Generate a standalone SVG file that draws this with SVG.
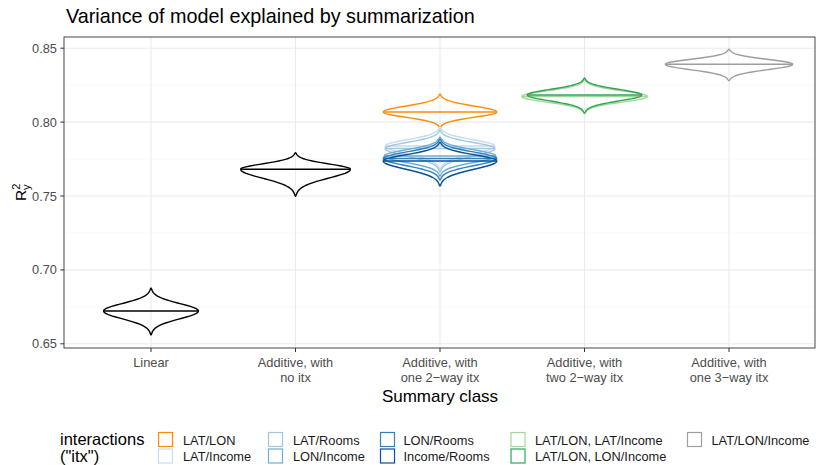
<svg xmlns="http://www.w3.org/2000/svg" width="818" height="465" viewBox="0 0 818 465">
<style>
  text { font-family: "Liberation Sans", Arial, sans-serif; }
  .tick { font-size: 12.8px; fill: #4d4d4d; }
  .gmaj { stroke: #ebebeb; stroke-width: 1.1; fill: none; }
  .gmin { stroke: #f3f3f3; stroke-width: 0.6; fill: none; }
  .axt { stroke: #333; stroke-width: 1; }
  .vio { fill: none; stroke-width: 1.4; stroke-linejoin: round; }
  .key { fill: #fff; stroke-width: 1.2; }
  .lab { font-size: 12.8px; fill: #1a1a1a; }
  .ttl { font-size: 17px; fill: #000; }
  .ltl { font-size: 16.5px; fill: #000; }
</style>
<defs>
  <!-- unit half violin: widest at y=0, tail tip at y=-1 -->
  <path id="vt" vector-effect="non-scaling-stroke" d="M-1,0 L-.988,-.05 L-.954,-.1 L-.899,-.15 L-.828,-.2 L-.744,-.25 L-.654,-.3 L-.56,-.35 L-.469,-.4 L-.384,-.45 L-.307,-.5 L-.239,-.55 L-.182,-.6 L-.136,-.65 L-.099,-.7 L-.07,-.75 L-.049,-.8 L-.033,-.85 L-.022,-.9 L-.014,-.95 L0,-1 L.014,-.95 L.022,-.9 L.033,-.85 L.049,-.8 L.07,-.75 L.099,-.7 L.136,-.65 L.182,-.6 L.239,-.55 L.307,-.5 L.384,-.45 L.469,-.4 L.56,-.35 L.654,-.3 L.744,-.25 L.828,-.2 L.899,-.15 L.954,-.1 L.988,-.05 L1,0"/>
</defs>

<rect width="818" height="465" fill="#fff"/>

<!-- title -->
<text x="66" y="23" font-size="19.8" fill="#000">Variance of model explained by summarization</text>

<!-- panel grid -->
<g id="grid">
  <line class="gmin" x1="64" y1="85.2" x2="815" y2="85.2"/>
  <line class="gmin" x1="64" y1="159.1" x2="815" y2="159.1"/>
  <line class="gmin" x1="64" y1="233" x2="815" y2="233"/>
  <line class="gmin" x1="64" y1="306.9" x2="815" y2="306.9"/>
  <line class="gmaj" x1="64" y1="48.2" x2="815" y2="48.2"/>
  <line class="gmaj" x1="64" y1="122.1" x2="815" y2="122.1"/>
  <line class="gmaj" x1="64" y1="196" x2="815" y2="196"/>
  <line class="gmaj" x1="64" y1="269.9" x2="815" y2="269.9"/>
  <line class="gmaj" x1="64" y1="343.8" x2="815" y2="343.8"/>
  <line class="gmaj" x1="151" y1="37" x2="151" y2="348"/>
  <line class="gmaj" x1="295.5" y1="37" x2="295.5" y2="348"/>
  <line class="gmaj" x1="440" y1="37" x2="440" y2="348"/>
  <line class="gmaj" x1="584.5" y1="37" x2="584.5" y2="348"/>
  <line class="gmaj" x1="729" y1="37" x2="729" y2="348"/>
</g>

<!-- violins -->
<g id="v-linear" class="vio" stroke="#000">
  <use href="#vt" transform="translate(151 311) scale(47.5 23)"/>
  <use href="#vt" transform="translate(151 311) scale(47.5 -24)"/>
  <line x1="103.5" y1="311" x2="198.5" y2="311"/>
</g>
<g id="v-additive" class="vio" stroke="#000">
  <use href="#vt" transform="translate(295.5 169.3) scale(55 16.6)"/>
  <use href="#vt" transform="translate(295.5 169.3) scale(55 -27)"/>
  <line x1="240.5" y1="169.3" x2="350.5" y2="169.3"/>
</g>
<g id="v-latlon" class="vio" stroke="#ff8c00">
  <use href="#vt" transform="translate(440 112) scale(57 18)"/>
  <use href="#vt" transform="translate(440 112) scale(57 -16)"/>
  <line x1="383" y1="112" x2="497" y2="112"/>
</g>
<g id="v-latincome" class="vio" stroke="#c6dbef">
  <use href="#vt" transform="translate(440 146) scale(55 19)"/>
  <use href="#vt" transform="translate(440 146) scale(55 -24)"/>
  <line x1="385" y1="146" x2="495" y2="146"/>
</g>
<g id="v-latrooms" class="vio" stroke="#9ecae1">
  <use href="#vt" transform="translate(440 148.5) scale(55 18.5)"/>
  <use href="#vt" transform="translate(440 148.5) scale(55 -23.5)"/>
  <line x1="385" y1="148.5" x2="495" y2="148.5"/>
</g>
<g id="v-lonincome" class="vio" stroke="#6baed6">
  <use href="#vt" transform="translate(440 156) scale(56 19)"/>
  <use href="#vt" transform="translate(440 156) scale(56 -20)"/>
  <line x1="384" y1="156" x2="496" y2="156"/>
</g>
<g id="v-lonrooms" class="vio" stroke="#3182bd">
  <use href="#vt" transform="translate(440 158.5) scale(57 19.5)"/>
  <use href="#vt" transform="translate(440 158.5) scale(57 -21.5)"/>
  <line x1="383" y1="158.5" x2="497" y2="158.5"/>
</g>
<g id="v-incomerooms" class="vio" stroke="#08519c">
  <use href="#vt" transform="translate(440 161) scale(57 19)"/>
  <use href="#vt" transform="translate(440 161) scale(57 -25)"/>
  <line x1="383" y1="161" x2="497" y2="161"/>
</g>
<g id="v-latlon-latincome" class="vio" stroke="#a1d99b" stroke-width="1.8">
  <use href="#vt" transform="translate(584.5 96.5) scale(63 17)"/>
  <use href="#vt" transform="translate(584.5 96.5) scale(63 -17)"/>
  <line x1="521.5" y1="96.5" x2="647.5" y2="96.5"/>
</g>
<g id="v-latlon-lonincome" class="vio" stroke="#31a354">
  <use href="#vt" transform="translate(584.5 95) scale(57.5 17)"/>
  <use href="#vt" transform="translate(584.5 95) scale(57.5 -18)"/>
  <line x1="527" y1="95" x2="642" y2="95"/>
</g>
<g id="v-latlonincome" class="vio" stroke="#9e9e9e">
  <use href="#vt" transform="translate(729 64.3) scale(64 15)"/>
  <use href="#vt" transform="translate(729 64.3) scale(64 -16.5)"/>
  <line x1="665" y1="64.3" x2="793" y2="64.3"/>
</g>

<!-- panel border and axes -->
<rect x="64" y="37" width="751" height="311" fill="none" stroke="#333" stroke-width="0.9"/>
<g id="yaxis">
  <line class="axt" x1="60.3" y1="48.2" x2="64" y2="48.2"/>
  <line class="axt" x1="60.3" y1="122.1" x2="64" y2="122.1"/>
  <line class="axt" x1="60.3" y1="196" x2="64" y2="196"/>
  <line class="axt" x1="60.3" y1="269.9" x2="64" y2="269.9"/>
  <line class="axt" x1="60.3" y1="343.8" x2="64" y2="343.8"/>
  <text class="tick" x="57" y="52.7" text-anchor="end">0.85</text>
  <text class="tick" x="57" y="126.6" text-anchor="end">0.80</text>
  <text class="tick" x="57" y="200.5" text-anchor="end">0.75</text>
  <text class="tick" x="57" y="274.4" text-anchor="end">0.70</text>
  <text class="tick" x="57" y="348.3" text-anchor="end">0.65</text>
</g>
<g id="xaxis">
  <line class="axt" x1="151" y1="348" x2="151" y2="352"/>
  <line class="axt" x1="295.5" y1="348" x2="295.5" y2="352"/>
  <line class="axt" x1="440" y1="348" x2="440" y2="352"/>
  <line class="axt" x1="584.5" y1="348" x2="584.5" y2="352"/>
  <line class="axt" x1="729" y1="348" x2="729" y2="352"/>
  <g class="tick" text-anchor="middle">
    <text x="151" y="367">Linear</text>
    <text x="295.5" y="367">Additive, with</text>
    <text x="295.5" y="382">no itx</text>
    <text x="440" y="367">Additive, with</text>
    <text x="440" y="382">one 2−way itx</text>
    <text x="584.5" y="367">Additive, with</text>
    <text x="584.5" y="382">two 2−way itx</text>
    <text x="729" y="367">Additive, with</text>
    <text x="729" y="382">one 3−way itx</text>
  </g>
</g>

<!-- axis titles -->
<text class="ttl" x="440" y="401.5" text-anchor="middle">Summary class</text>
<text transform="translate(26 201) rotate(-90)" font-size="15.5" fill="#000">R<tspan font-size="11" dy="-6.5">2</tspan><tspan font-size="11" dx="-6.2" dy="10">y</tspan></text>

<!-- legend -->
<g id="legend">
  <text class="ltl" x="60" y="444.5">interactions</text>
  <text class="ltl" x="60" y="461.5">("itx")</text>
  <rect class="key" x="158.5" y="432.5" width="14" height="14" stroke="#ff8c00"/>
  <rect class="key" x="158.5" y="449" width="14" height="14" stroke="#c6dbef"/>
  <rect class="key" x="268.5" y="432.5" width="14" height="14" stroke="#9ecae1"/>
  <rect class="key" x="268.5" y="449" width="14" height="14" stroke="#6baed6"/>
  <rect class="key" x="380.5" y="432.5" width="14" height="14" stroke="#3182bd"/>
  <rect class="key" x="380.5" y="449" width="14" height="14" stroke="#08519c"/>
  <rect class="key" x="511" y="432.5" width="14" height="14" stroke="#a1d99b"/>
  <rect class="key" x="511" y="449" width="14" height="14" stroke="#31a354"/>
  <rect class="key" x="687.5" y="432.5" width="14" height="14" stroke="#9e9e9e"/>
  <text class="lab" x="183" y="445">LAT/LON</text>
  <text class="lab" x="183" y="461">LAT/Income</text>
  <text class="lab" x="293" y="445">LAT/Rooms</text>
  <text class="lab" x="293" y="461">LON/Income</text>
  <text class="lab" x="403.5" y="445">LON/Rooms</text>
  <text class="lab" x="403.5" y="461">Income/Rooms</text>
  <text class="lab" x="535" y="445">LAT/LON, LAT/Income</text>
  <text class="lab" x="535" y="461">LAT/LON, LON/Income</text>
  <text class="lab" x="711.5" y="445">LAT/LON/Income</text>
</g>
</svg>
